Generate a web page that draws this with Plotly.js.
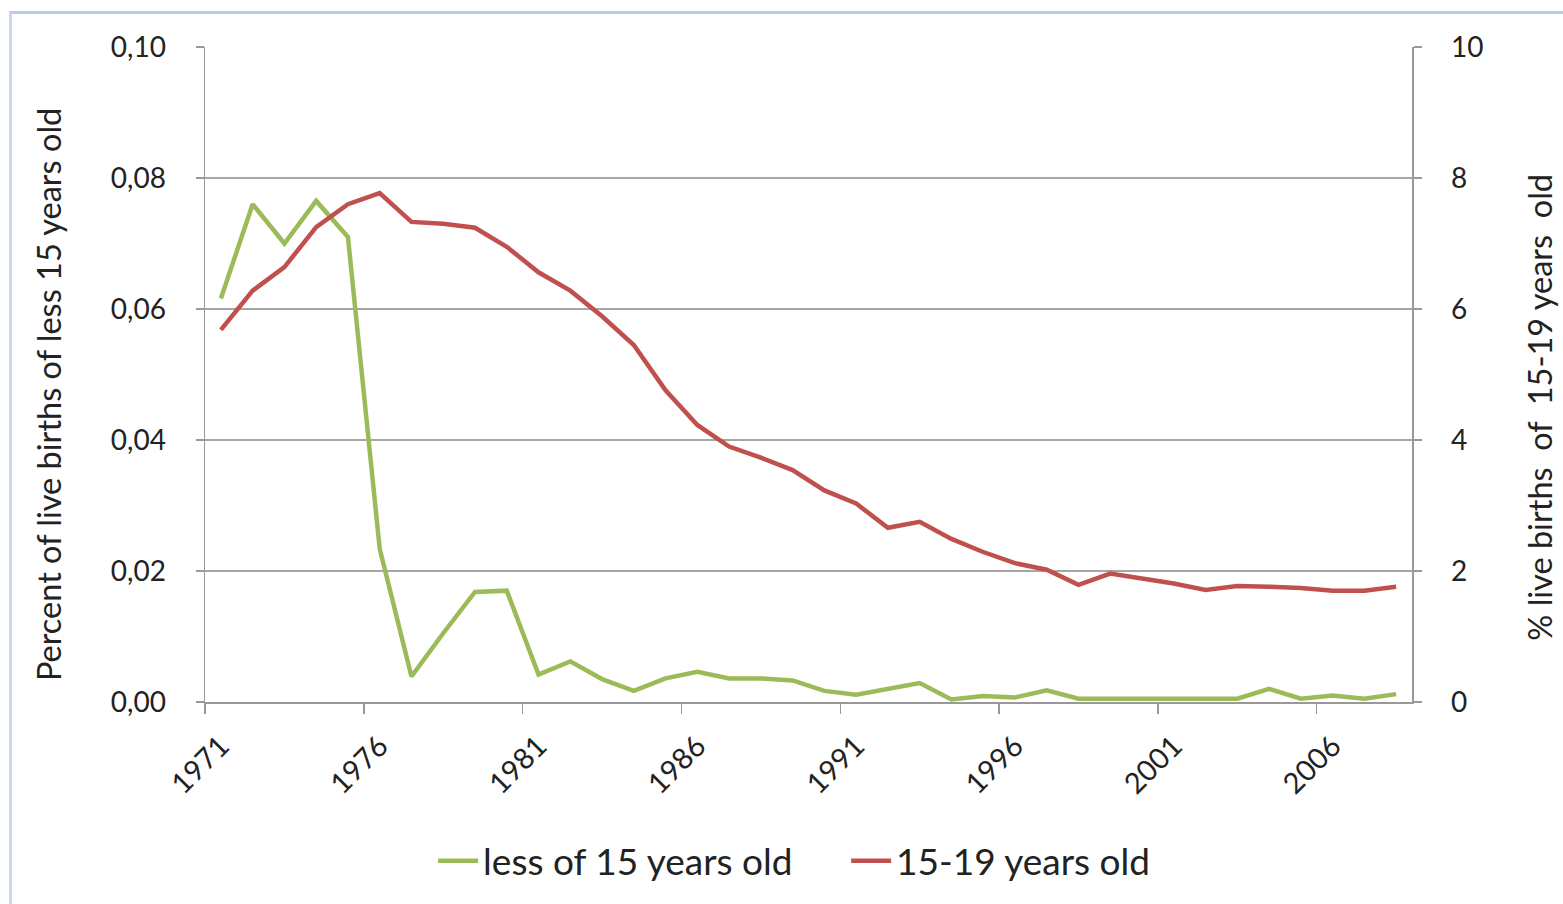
<!DOCTYPE html>
<html>
<head>
<meta charset="utf-8">
<script src="https://cdn.plot.ly/plotly-3.0.1.min.js"></script>
<style>
  html, body { margin: 0; padding: 0; background: #fff; overflow: hidden; }
  #chart { position: absolute; left: 0; top: 0; width: 1563px; height: 904px; }
  #frame { position: absolute; left: 9px; top: 11px; width: 1600px; height: 1000px;
           border-left: 3px solid #c9d9f0; border-top: 3px solid #b7cbeb; pointer-events: none; }
</style>
</head>
<body>
<div id="chart"></div>
<div id="frame"></div>
<script>
const years = ["1971","1972","1973","1974","1975","1976","1977","1978","1979","1980",
  "1981","1982","1983","1984","1985","1986","1987","1988","1989","1990",
  "1991","1992","1993","1994","1995","1996","1997","1998","1999","2000",
  "2001","2002","2003","2004","2005","2006","2007","2008"];
const lessThan15 = [0.0616,0.0760,0.0700,0.0765,0.0710,0.0234,0.0039,0.0105,0.0168,0.0170,
  0.0042,0.0062,0.0035,0.0017,0.0036,0.0046,0.0036,0.0036,0.0033,0.0017,
  0.0011,0.0020,0.0029,0.0004,0.0009,0.0007,0.0018,0.0005,0.0005,0.0004,
  0.0004,0.0004,0.0005,0.0020,0.0005,0.0010,0.0005,0.0012];
const age15to19 = [5.68,6.28,6.64,7.25,7.60,7.77,7.33,7.30,7.24,6.95,
  6.56,6.28,5.89,5.45,4.76,4.23,3.90,3.73,3.54,3.23,
  3.03,2.66,2.75,2.49,2.29,2.12,2.02,1.79,1.96,1.88,
  1.81,1.71,1.77,1.76,1.74,1.70,1.70,1.76];
const leftTicks = [0, 0.02, 0.04, 0.06, 0.08, 0.10];
const rightTicks = [0, 2, 4, 6, 8, 10];
const leftTitle = "Percent of live births of less 15 years old";
const rightTitle = "% live births  of  15-19 years  old";

const FONT = "Lato, 'Open Sans', 'Liberation Sans', sans-serif";

const traces = [
  { x: years, y: lessThan15, name: "less of 15 years old", type: "scatter", mode: "lines",
    line: { color: "#9bbb59", width: 4.5 }, yaxis: "y" },
  { x: years, y: age15to19, name: "15-19 years old", type: "scatter", mode: "lines",
    line: { color: "#c0504d", width: 4.5 }, yaxis: "y2" }
];

const layout = {
  width: 1563, height: 904,
  margin: { l: 205, r: 151, t: 47, b: 194, pad: 0 },
  paper_bgcolor: "#ffffff", plot_bgcolor: "#ffffff",
  separators: ",.",
  font: { family: FONT, size: 28, color: "#222" },
  showlegend: true,
  legend: { orientation: "h", x: 0.189, xanchor: "left", y: -0.243, yanchor: "middle",
            font: { family: FONT, size: 37, color: "#222" }, itemwidth: 40,
            entrywidth: 358, entrywidthmode: "pixels", tracegroupgap: 0 },
  xaxis: {
    type: "category", tickmode: "linear", tick0: 0, dtick: 5, tickson: "boundaries",
    ticks: "outside", ticklen: 10, tickcolor: "#999", tickwidth: 1.5,
    tickangle: -45, ticklabelstandoff: 14,
    tickfont: { family: FONT, size: 29, color: "#222" },
    showline: true, linecolor: "#999", linewidth: 1.5, showgrid: false, zeroline: false,
    range: [-0.5, 37.5], fixedrange: true
  },
  yaxis: {
    range: [0, 0.10], tickvals: leftTicks, tickformat: ".2f",
    ticks: "outside", ticklen: 8, tickcolor: "#999", tickwidth: 1.5, ticklabelstandoff: 24,
    showline: true, linecolor: "#999", linewidth: 1.5,
    showgrid: true, gridcolor: "#a6a6a6", gridwidth: 1.5, zeroline: false,
    tickfont: { family: FONT, size: 28, color: "#222" },
    automargin: false
  },
  yaxis2: {
    overlaying: "y", side: "right", range: [0, 10], tickvals: rightTicks, tickformat: "d",
    ticks: "outside", ticklen: 8, tickcolor: "#999", tickwidth: 1.5, ticklabelstandoff: 24,
    showline: true, linecolor: "#999", linewidth: 1.5, showgrid: false, zeroline: false,
    tickfont: { family: FONT, size: 28, color: "#222" },
    automargin: false
  },
  annotations: [
    { text: leftTitle, xref: "paper", yref: "paper", x: -0.1301, y: 0.470,
      xanchor: "center", yanchor: "middle", textangle: -90, showarrow: false,
      font: { family: FONT, size: 32.5, color: "#222" } },
    { text: rightTitle, xref: "paper", yref: "paper", x: 1.106, y: 0.4507,
      xanchor: "center", yanchor: "middle", textangle: -90, showarrow: false,
      font: { family: FONT, size: 32.5, color: "#222" } }
  ]
};

Plotly.newPlot("chart", traces, layout, { displayModeBar: false, staticPlot: true });
</script>
</body>
</html>
